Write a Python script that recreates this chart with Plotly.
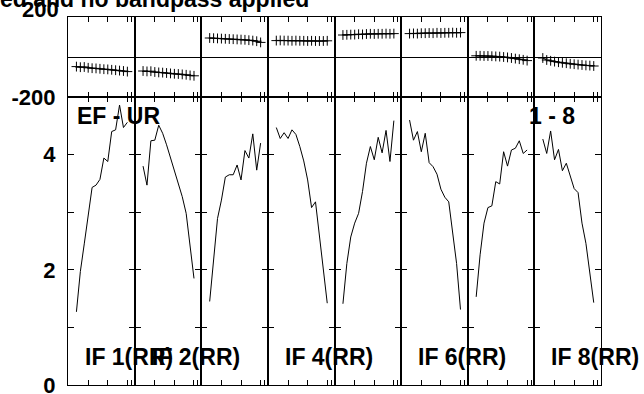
import plotly.graph_objects as go
from plotly.subplots import make_subplots

# ---- data ----
channels = [2, 3, 4, 5, 6, 7, 8, 9, 10, 11, 12, 13, 14, 15]
channel_ticks = [5, 10, 15, 16]

amp_if1 = [1.27, 1.97, 2.45, 2.95, 3.43, 3.47, 3.57, 3.94, 3.88, 4.40, 4.43, 4.86, 4.47, 4.56]
amp_if2 = [3.80, 3.47, 4.24, 4.25, 4.51, 4.37, 4.17, 3.95, 3.70, 3.47, 3.27, 2.98, 2.46, 1.85]
amp_if3 = [1.45, 2.15, 2.89, 3.21, 3.61, 3.65, 3.65, 3.82, 3.56, 4.07, 3.94, 4.36, 3.73, 4.20]
amp_if4 = [4.47, 4.28, 4.38, 4.28, 4.43, 4.35, 4.14, 3.89, 3.56, 3.08, 3.18, 2.57, 2.05, 1.42]
amp_if5 = [1.41, 2.11, 2.57, 2.81, 2.98, 3.36, 3.85, 4.14, 3.91, 4.30, 4.03, 4.42, 3.88, 4.59]
amp_if6 = [4.60, 4.25, 4.40, 4.05, 4.37, 3.86, 3.79, 3.66, 3.40, 3.26, 3.18, 2.63, 2.11, 1.31]
amp_if7 = [1.53, 2.26, 2.81, 3.08, 3.11, 3.53, 3.49, 4.05, 3.80, 4.08, 4.11, 4.24, 4.02, 4.08]
amp_if8 = [4.27, 4.02, 4.41, 3.91, 4.09, 3.72, 3.85, 3.62, 3.41, 3.34, 2.81, 2.46, 1.94, 1.43]

phase_if1 = [-48, -51, -50, -54, -56, -57, -59, -61, -62, -64, -66, -68, -70, -73]
phase_if2 = [-70, -72, -71, -75, -77, -78, -80, -82, -84, -85, -87, -89, -92, -94]
phase_if3 = [95, 94, 93, 92, 91, 90, 89, 88, 87, 86, 84, 82, 79, 73]
phase_if4 = [82, 83, 82, 82, 81, 82, 81, 81, 80, 81, 80, 80, 80, 81]
phase_if5 = [110, 111, 112, 112, 114, 113, 115, 116, 115, 116, 116, 117, 116, 117]
phase_if6 = [117, 118, 117, 119, 119, 120, 119, 121, 120, 121, 121, 122, 121, 122]
phase_if7 = [6, 6, 5, 5, 4, 3, 2, 0, -2, -5, -8, -11, -14, -18]
phase_if8 = [-5, -15, -19, -23, -26, -29, -31, -34, -36, -38, -40, -42, -43, -45]

if_labels = ["IF 1(RR)", "IF 2(RR)", "IF 3(RR)", "IF 4(RR)",
             "IF 5(RR)", "IF 6(RR)", "IF 7(RR)", "IF 8(RR)"]
if_label_shown = [True, True, False, True, False, True, False, True]

phase_ticks = [-200]
phase_ticktext = ["-200"]
amp_ticks = [0, 1, 2, 3, 4]
amp_ticktext = ["0", "", "2", "", "4"]

title_text = "ed and no bandpass applied"
baseline_text = "EF - UR"
range_text = "1 - 8"

amps = [amp_if1, amp_if2, amp_if3, amp_if4, amp_if5, amp_if6, amp_if7, amp_if8]
phases = [phase_if1, phase_if2, phase_if3, phase_if4, phase_if5, phase_if6, phase_if7, phase_if8]

# ---- figure ----
W, H = 644, 394
ML, MR, MT, MB = 68, 43, 17, 9
PW = W - ML - MR
PH = H - MT - MB
FONT = "Liberation Sans, Arial, Helvetica, sans-serif"
bold = dict(family=FONT, size=22, color="black", weight="bold")
bold_lbl = dict(family=FONT, size=23, color="black", weight="bold")

fig = make_subplots(rows=2, cols=8, horizontal_spacing=0, vertical_spacing=0,
                    row_heights=[80 / PH, 1 - 80 / PH])

for i in range(8):
    fig.add_trace(go.Scatter(x=channels, y=phases[i], mode="lines+markers",
                             line=dict(color="black", width=1),
                             marker=dict(symbol="cross-thin", size=7,
                                         line=dict(color="black", width=1)),
                             showlegend=False), row=1, col=i + 1)
    fig.add_trace(go.Scatter(x=channels, y=amps[i], mode="lines",
                             line=dict(color="black", width=1),
                             showlegend=False), row=2, col=i + 1)

fig.update_xaxes(range=[-0.15, 16.85], showline=True, linecolor="black", linewidth=1,
                 mirror="ticks", ticks="inside", tickvals=channel_ticks, ticklen=5,
                 tickcolor="black", tickwidth=1, showticklabels=False,
                 showgrid=False, zeroline=False, automargin=False)

for c in range(1, 9):
    fig.update_yaxes(range=[-200, 200], showline=True, linecolor="black", linewidth=1,
                     mirror=True, ticks="", tickvals=phase_ticks, ticktext=phase_ticktext,
                     showticklabels=(c == 1), tickfont=bold, ticklabelstandoff=7,
                     ticklabeloverflow="allow",
                     showgrid=False, zeroline=True, zerolinecolor="black",
                     zerolinewidth=1, automargin=False, row=1, col=c)
    fig.update_yaxes(range=[0, 5], showline=True, linecolor="black", linewidth=1,
                     mirror="ticks", ticks="inside", ticklen=6, tickcolor="black",
                     tickwidth=1, tickvals=amp_ticks, ticktext=amp_ticktext,
                     showticklabels=(c == 1), tickfont=bold, ticklabelstandoff=7,
                     ticklabeloverflow="allow",
                     showgrid=False, zeroline=False, automargin=False, row=2, col=c)


def px_x(p):
    return (p - ML) / PW


def px_y(p):
    return (H - MB - p) / PH


annotations = []
annotations.append(dict(text=title_text, x=px_x(311), y=px_y(-1), xref="paper", yref="paper",
                        xanchor="right", yanchor="middle", showarrow=False, font=bold_lbl))
annotations.append(dict(text="200", x=px_x(61), y=px_y(10), xref="paper", yref="paper",
                        xanchor="right", yanchor="middle", showarrow=False, font=bold))
annotations.append(dict(text=baseline_text, x=px_x(75), y=px_y(116), xref="paper", yref="paper",
                        xanchor="left", yanchor="middle", showarrow=False, font=bold_lbl))
annotations.append(dict(text=range_text, x=px_x(527), y=px_y(116), xref="paper", yref="paper",
                        xanchor="left", yanchor="middle", showarrow=False, font=bold_lbl))
for i in range(8):
    if if_label_shown[i]:
        annotations.append(dict(text=if_labels[i], x=i / 8 + px_x(ML + 15), y=px_y(357),
                                xref="paper", yref="paper", xanchor="left", yanchor="middle",
                                showarrow=False, font=bold_lbl))

fig.update_layout(width=W, height=H, margin=dict(l=ML, r=MR, t=MT, b=MB, autoexpand=False),
                  paper_bgcolor="white", plot_bgcolor="white",
                  annotations=annotations, showlegend=False)

fig.write_html("out.html", config={"displayModeBar": False},
               post_script="document.body.style.margin='0';document.body.style.overflow='hidden';")
